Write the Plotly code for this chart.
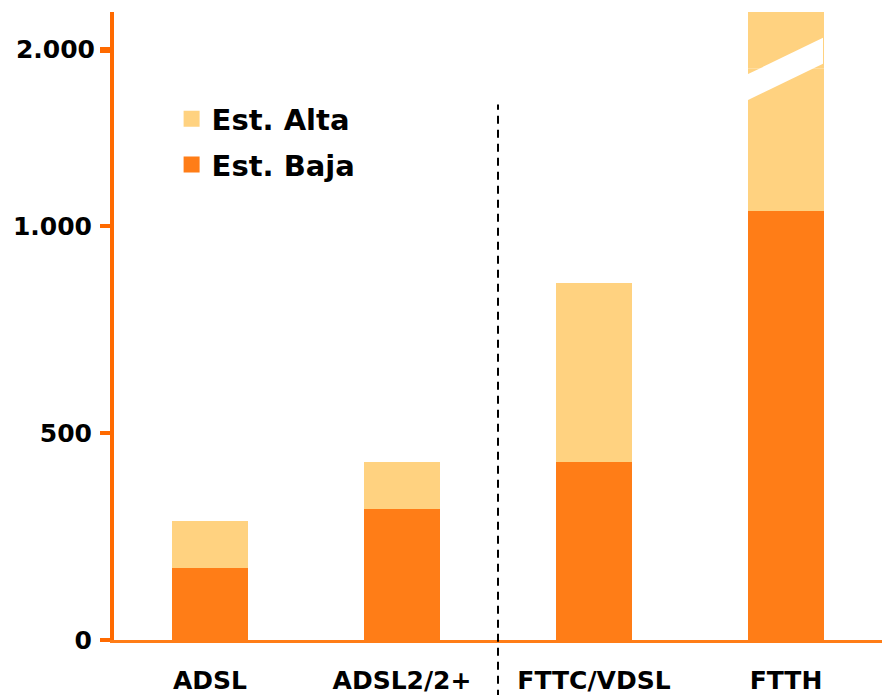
import plotly.graph_objects as go

# data
categories = ["ADSL", "ADSL2/2+", "FTTC/VDSL", "FTTH"]
est_baja = [173, 317, 430, 1038]
est_alta = [288, 430, 863, 2200]   # FTTH top is beyond the axis break
alta_extra = [a - b for a, b in zip(est_alta, est_baja)]

lower_ticks = [0, 500, 1000]
upper_ticks = [2000]

DARK = "#FF7D17"
LIGHT = "#FFD280"
AXIS = "#FF6A00"

W, H = 882, 695
ml, mr, mt, mb = 114, 0, 12, 51
plot_w = W - ml - mr
plot_h = H - mt - mb

# broken y axis: lower part 0..~1380, upper part 1900..2200
brk = 0.91
lower_range = [0, 1382]
upper_range = [1900, 2200]

fig = go.Figure()

for yax in ("y", "y2"):
    fig.add_trace(go.Bar(
        x=categories, y=est_baja, yaxis=yax, width=0.4,
        marker=dict(color=DARK, line=dict(width=0)),
        showlegend=False, name="Est. Baja"
    ))
    fig.add_trace(go.Bar(
        x=categories, y=alta_extra, yaxis=yax, width=0.4,
        marker=dict(color=LIGHT, line=dict(width=0)),
        showlegend=False, name="Est. Alta"
    ))

# legend entries
fig.add_trace(go.Scatter(x=[None], y=[None], mode="markers", name="Est. Alta",
                         marker=dict(symbol="square", size=16, color=LIGHT), legendgroup="a"))
fig.add_trace(go.Scatter(x=[None], y=[None], mode="markers", name="Est. Baja",
                         marker=dict(symbol="square", size=16, color=DARK), legendgroup="b"))

# helpers: pixel (as seen on the reference) -> paper
def px(p):
    return (p - ml) / plot_w
def py(p):
    return (642 - p) / plot_h

# white slash over the FTTH bar marking the axis break
x0, x1 = px(747), px(823)
fig.add_shape(type="path", xref="paper", yref="paper",
              path=f"M{x0},{py(73)} L{x1},{py(36)} L{x1},{py(62)} L{x0},{py(99)} Z",
              fillcolor="white", line=dict(width=0), layer="above")

# dashed separator between copper and fibre technologies
fig.add_shape(type="line", xref="x", yref="paper", x0=1.5, x1=1.5,
              y0=py(700), y1=py(103), line=dict(color="black", width=2, dash="8px,6px"))

font = dict(family="DejaVu Sans, Verdana, sans-serif", size=25, color="black", weight="bold")

fig.update_layout(
    width=W, height=H,
    margin=dict(l=ml, r=mr, t=mt, b=mb),
    paper_bgcolor="white", plot_bgcolor="white",
    barmode="stack",
    separators=",.",
    font=font,
    showlegend=True,
    legend=dict(x=0.075, y=py(92), xanchor="left", yanchor="top",
                font=dict(family="DejaVu Sans, Verdana, sans-serif", size=29, color="black", weight="bold"),
                bgcolor="rgba(0,0,0,0)", traceorder="grouped", tracegroupgap=5, itemwidth=30),
    xaxis=dict(range=[-0.5, 3.5], showgrid=False, showline=True, linecolor=DARK, linewidth=3,
               ticks="", tickfont=font, ticklabelstandoff=16, zeroline=False, fixedrange=True),
    yaxis=dict(domain=[0, brk], range=lower_range, tickvals=lower_ticks, tickformat=",",
               showgrid=False, zeroline=False, showline=True, linecolor=AXIS, linewidth=4,
               ticks="outside", ticklen=10, tickwidth=4, tickcolor=AXIS, tickfont=font,
               ticklabelstandoff=3),
    yaxis2=dict(domain=[brk, 1], range=upper_range, tickvals=upper_ticks, tickformat=",",
                anchor="x", showgrid=False, zeroline=False, showline=True, linecolor=AXIS, linewidth=4,
                ticks="outside", ticklen=10, tickwidth=6, tickcolor=AXIS, tickfont=font,
                ticklabelstandoff=0),
)

fig.write_html("out.html", config={"displayModeBar": False},
               post_script="document.body.style.margin='0px';document.body.style.overflow='hidden';")
